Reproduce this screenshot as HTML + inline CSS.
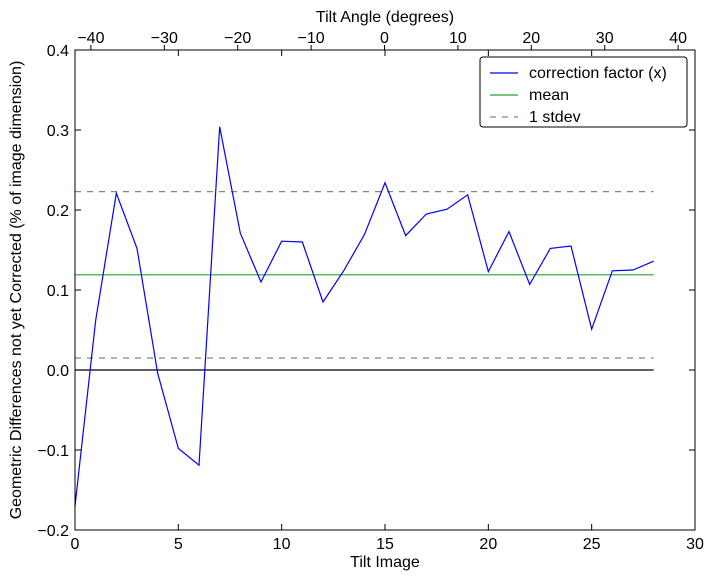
<!DOCTYPE html>
<html><head><meta charset="utf-8"><style>
body{margin:0;background:#fff;}
svg text{font-family:"Liberation Sans",sans-serif;font-size:16px;fill:#000;}
</style></head><body>
<svg id="c" width="714" height="579" xmlns="http://www.w3.org/2000/svg"></svg>
<script>
const values=[-0.17,0.062,0.221,0.152,-0.004,-0.098,-0.119,0.304,0.171,0.110,0.161,0.160,0.085,0.124,0.169,0.234,0.168,0.195,0.201,0.219,0.123,0.173,0.107,0.152,0.155,0.051,0.124,0.125,0.136];
const meanVal=0.119;
const stdevLines=[0.223,0.015];
const xTicks=[0,5,10,15,20,25,30];
const yTicks=[-0.2,-0.1,0.0,0.1,0.2,0.3,0.4];
const yTickLabels=["\u22120.2","\u22120.1","0.0","0.1","0.2","0.3","0.4"];
const topTicks=[-40,-30,-20,-10,0,10,20,30,40];
const topTickLabels=["\u221240","\u221230","\u221220","\u221210","0","10","20","30","40"];
const L=75,R=695,T=50,B=530;
const X=v=>L+(v-0)/30*(R-L);
const Y=v=>B-(v+0.2)/0.6*(B-T);
const XT=d=>384.5+d*7.34;
const svg=document.getElementById('c');
const NS='http://www.w3.org/2000/svg';
function mk(tag,attrs,name,parent){const e=document.createElementNS(NS,tag);for(const k in attrs)e.setAttribute(k,attrs[k]);


(parent||svg).appendChild(e);return e;}
function txt(x,y,s,anchor,name){const t=mk('text',{x:x,y:y,'text-anchor':anchor},name);t.textContent=s;return t;}
const x0=X(0),x28=X(values.length-1);
mk('line',{x1:x0,x2:x28,y1:Y(0),y2:Y(0),stroke:'#000','stroke-width':1.2},'zero-line');
mk('line',{x1:x0,x2:x28,y1:Y(meanVal),y2:Y(meanVal),stroke:'#2ca02c','stroke-width':1.2},'mean-line');
stdevLines.forEach((v,i)=>mk('line',{x1:x0,x2:x28,y1:Y(v),y2:Y(v),stroke:'#6a9a6a','stroke-width':1.2,'stroke-dasharray':'6,6'},'stdev-line-'+i));
mk('polyline',{points:values.map((v,i)=>X(i)+','+Y(v)).join(' '),fill:'none',stroke:'#0000ff','stroke-width':1.2},'correction-factor-line');
mk('rect',{x:L,y:T,width:R-L,height:B-T,fill:'none',stroke:'#000','stroke-width':1},'plot-frame');
xTicks.forEach(v=>{const x=X(v);mk('line',{x1:x,x2:x,y1:B,y2:B-6,stroke:'#000'},'x-tick');mk('line',{x1:x,x2:x,y1:T,y2:T+6,stroke:'#000'},'x-tick-top');txt(x,549,String(v),'middle','x-tick-label');});
yTicks.forEach((v,i)=>{const y=Y(v);mk('line',{x1:L,x2:L+6,y1:y,y2:y,stroke:'#000'},'y-tick');mk('line',{x1:R,x2:R-6,y1:y,y2:y,stroke:'#000'},'y-tick-right');txt(L-6,y+6,yTickLabels[i],'end','y-tick-label');});
topTicks.forEach((v,i)=>{const x=XT(v);mk('line',{x1:x,x2:x,y1:T,y2:T-5,stroke:'#000'},'top-tick');txt(x,43,topTickLabels[i],'middle','top-tick-label');});
txt(385,567,'Tilt Image','middle','x-axis-title');
txt(385,22,'Tilt Angle (degrees)','middle','top-axis-title');
const yt=txt(0,0,'Geometric Differences not yet Corrected (% of image dimension)','middle','y-axis-title');
yt.setAttribute('transform','translate(21,290) rotate(-90)');
const g=mk('g',{},'legend');
mk('rect',{x:480,y:57,width:207,height:70,fill:'#fff',stroke:'#000',rx:3},'legend-box',g);
const le=[['correction factor (x)','#0000ff',''],['mean','#2ca02c',''],['1 stdev','#6a9a6a','6,6']];
le.forEach((e,i)=>{const y=73+i*22;mk('line',{x1:490,x2:518,y1:y,y2:y,stroke:e[1],'stroke-width':1.2,'stroke-dasharray':e[2]||'none'},'legend-swatch',g);const t=mk('text',{x:529,y:y+5},'legend-entry',g);t.textContent=e[0];});
</script>
</body></html>
